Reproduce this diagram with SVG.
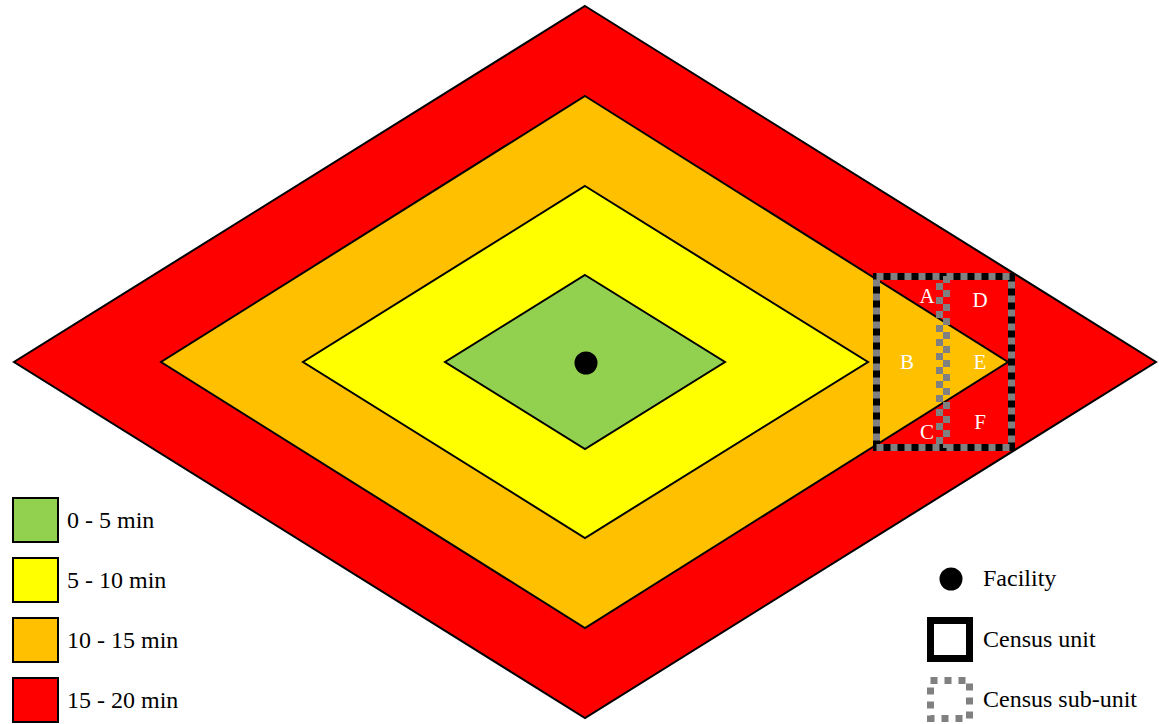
<svg xmlns="http://www.w3.org/2000/svg" width="1159" height="724" viewBox="0 0 1159 724">
<style>
.zone{stroke:#000;stroke-width:2;stroke-linejoin:miter}
.lbl{font-family:"Liberation Serif","Times New Roman",serif;font-size:24px;fill:#000}
.cell{font-family:"Liberation Serif","Times New Roman",serif;font-size:21px;fill:#fff;text-anchor:middle}
.sq{stroke:#000;stroke-width:2}
</style>
<rect width="1159" height="724" fill="#fff"/>
<g id="zone-15-20"><polygon class="zone" fill="#FF0000" points="585,6 1156,362 585,718 14,362"/></g>
<g id="zone-10-15"><polygon class="zone" fill="#FFC000" points="585,96 1008,362 585,628 161,362"/></g>
<g id="zone-5-10"><polygon class="zone" fill="#FFFF00" points="585,186 868,362 585,538 303,362"/></g>
<g id="zone-0-5"><polygon class="zone" fill="#92D050" points="585,275 725,362 585,449 445,362"/></g>
<g id="facility"><circle cx="586" cy="363" r="11.5" fill="#000"/></g>
<g id="census-unit">
<rect x="876.5" y="276.5" width="135" height="171" fill="none" stroke="#000" stroke-width="7"/>
<rect x="876.5" y="276.5" width="135" height="171" fill="none" stroke="#808080" stroke-width="7" stroke-dasharray="7 7"/>
<line x1="939.5" y1="276" x2="939.5" y2="448" stroke="#808080" stroke-width="7" stroke-dasharray="7 7" stroke-dashoffset="7"/>
<line x1="946.5" y1="276" x2="946.5" y2="448" stroke="#808080" stroke-width="7" stroke-dasharray="7 7"/>
</g>
<g id="cell-labels">
<text class="cell" x="927" y="303">A</text>
<text class="cell" x="907" y="369">B</text>
<text class="cell" x="927" y="439">C</text>
<text class="cell" x="980" y="307">D</text>
<text class="cell" x="980" y="369">E</text>
<text class="cell" x="980" y="429">F</text>
</g>
<g id="legend-zones">
<rect class="sq" x="13" y="498" width="45" height="44" fill="#92D050"/>
<text class="lbl" x="67" y="528">0 - 5 min</text>
<rect class="sq" x="13" y="558" width="45" height="44" fill="#FFFF00"/>
<text class="lbl" x="67" y="588">5 - 10 min</text>
<rect class="sq" x="13" y="618" width="45" height="44" fill="#FFC000"/>
<text class="lbl" x="67" y="648">10 - 15 min</text>
<rect class="sq" x="13" y="678" width="45" height="44" fill="#FF0000"/>
<text class="lbl" x="67" y="708">15 - 20 min</text>
</g>
<g id="legend-symbols">
<circle cx="951" cy="579" r="11.5" fill="#000"/>
<text class="lbl" x="983" y="586">Facility</text>
<rect x="930.5" y="620.5" width="39" height="38" fill="#fff" stroke="#000" stroke-width="7"/>
<text class="lbl" x="983" y="647">Census unit</text>
<rect x="930.5" y="680.5" width="39" height="38" fill="none" stroke="#808080" stroke-width="7" stroke-dasharray="7 7"/>
<text class="lbl" x="983" y="707">Census sub-unit</text>
</g>
</svg>
